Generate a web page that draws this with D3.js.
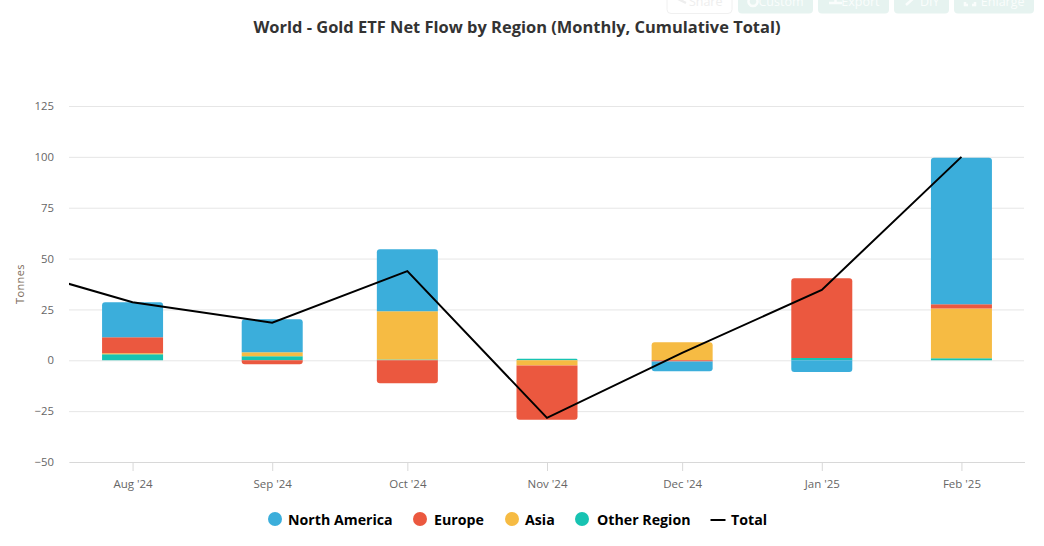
<!DOCTYPE html>
<html>
<head>
<meta charset="utf-8">
<script src="https://cdn.jsdelivr.net/npm/d3@7"></script>
<style>
  html, body { margin: 0; padding: 0; background: #fff; }
  svg { display: block; font-family: "Open Sans", sans-serif; }
</style>
</head>
<body>
<div id="chart"></div>
<script>
const months = ["2024-08-01", "2024-09-01", "2024-10-01", "2024-11-01", "2024-12-01", "2025-01-01", "2025-02-01"];
const north_america = [17.2, 16.2, 30.5, 0, -4.8, -5.7, 72];
const europe = [7.8, -2, -11.3, -26.6, -0.6, 39.2, 2];
const asia = [0.5, 2, 23.7, -2.6, 8.9, 0, 24.5];
const other_region = [3, 2, 0.4, 0.7, 0, 1.1, 1];
// total also has the month before the axis starts, the line runs in from the left edge
const total_months = ["2024-07-01"].concat(months);
const total = [48.4, 28.5, 18.5, 43.8, -28.3, 3.6, 34.6, 100];
const y_ticks = [-50, -25, 0, 25, 50, 75, 100, 125];
const buttons = ["Share", "Custom", "Export", "DIY", "Enlarge"];

const width = 1044;
const height = 546;
const margin = { top: 106, right: 20, bottom: 84, left: 69 };

const colors = { "North America": "#3baedb", "Europe": "#eb583f", "Asia": "#f6bb43", "Other Region": "#17c3b2" };

const parseDate = d3.utcParse("%Y-%m-%d");
const formatDate = d3.utcFormat("%b '%y");

const svg = d3.select("#chart").append("svg").attr("width", width).attr("height", height);

// toolbar, cut off by the top of the window
const button_x = [[667, 732], [738, 813], [818, 889], [894, 949], [954, 1034]];
const button_icons = [
  "M678,-1L686,-4M678,-1L686,3",
  "M753,-3a4.5,4.5 0 1,0 0.01,0",
  "M829,3h13M835.5,-4v6",
  "M906,5L915,-3",
  "M965,2v3h3M975,2v3h-3",
];
const toolbar = svg.append("g").selectAll("g").data(buttons).join("g");
toolbar.append("rect")
  .attr("x", (d, i) => button_x[i][0])
  .attr("y", -20)
  .attr("width", (d, i) => button_x[i][1] - button_x[i][0])
  .attr("height", 33.5)
  .attr("rx", 4)
  .attr("fill", (d, i) => (i === 0 ? "#fff" : "#e6f3f0"))
  .attr("stroke", (d, i) => (i === 0 ? "#f0f0f0" : "none"));
toolbar.append("path")
  .attr("d", (d, i) => button_icons[i])
  .attr("fill", "none")
  .attr("stroke", (d, i) => (i === 0 ? "#eeeeee" : "#fafdfc"))
  .attr("stroke-width", 2.5);
toolbar.append("text")
  .text((d) => d)
  .attr("x", (d, i) => button_x[i][1] - 9.5)
  .attr("y", 6)
  .attr("text-anchor", "end")
  .attr("font-size", 12.5)
  .attr("fill", (d, i) => (i === 0 ? "#eeeeee" : "#fafdfc"));

svg.append("text")
  .text("World - Gold ETF Net Flow by Region (Monthly, Cumulative Total)")
  .attr("x", 517)
  .attr("y", 33)
  .attr("text-anchor", "middle")
  .attr("font-size", 16.45)
  .attr("font-weight", 700)
  .attr("fill", "#333333");

const x = d3.scaleUtc()
  .domain([parseDate("2024-07-18"), parseDate("2025-02-15")])
  .range([margin.left + 0.5, width - margin.right + 0.5]);

const y = d3.scaleLinear()
  .domain([-50, 125])
  .range([height - margin.bottom, margin.top]);

// Eixo y
const yAxis = svg.append("g")
  .attr("transform", `translate(${margin.left},0)`)
  .call(d3.axisLeft(y).tickValues(y_ticks).tickSize(0).tickPadding(15));
yAxis.select(".domain").remove();
yAxis.selectAll("text").attr("font-size", 11.3).attr("font-family", "Open Sans").attr("fill", "#666666");
yAxis.selectAll("line")
  .attr("x2", width - margin.right - margin.left)
  .attr("stroke", "#e6e6e6");

svg.append("text")
  .text("Tonnes")
  .attr("transform", "translate(24,284) rotate(-90)")
  .attr("text-anchor", "middle")
  .attr("font-size", 11)
  .attr("letter-spacing", 0.4)
  .attr("fill", "#7a6a58");

// Eixo x
const xAxis = svg.append("g")
  .attr("transform", `translate(0,${height - margin.bottom})`)
  .call(d3.axisBottom(x).tickValues(months.map(parseDate)).tickFormat(formatDate).tickSize(9).tickSizeOuter(0).tickPadding(9));
xAxis.select(".domain").attr("stroke", "#d8d8d8");
xAxis.selectAll("line").attr("stroke", "#d8d8d8");
xAxis.selectAll("text").attr("font-size", 11.5).attr("font-family", "Open Sans").attr("fill", "#666666");

// stacked bars, positive values go up from zero and negative ones go down
const bar_width = 61;
const corner = 3;
const series = [
  { name: "North America", values: north_america },
  { name: "Europe", values: europe },
  { name: "Asia", values: asia },
  { name: "Other Region", values: other_region },
];
const segments = [];
months.forEach((month, i) => {
  let up = 0;
  let down = 0;
  const stack = series.slice().reverse().map((s) => {
    const v = s.values[i];
    const seg = { name: s.name, date: parseDate(month), y0: v >= 0 ? up : down, y1: (v >= 0 ? up : down) + v };
    if (v >= 0) up += v; else down += v;
    return seg;
  });
  stack.forEach((seg) => {
    seg.round = seg.y1 !== seg.y0 && (seg.y1 === up || seg.y1 === down) && seg.y1 !== 0;
    segments.push(seg);
  });
});

function barPath(d) {
  const left = x(d.date) - bar_width / 2;
  const right = left + bar_width;
  const base = y(d.y0);
  const end = y(d.y1);
  const r = d.round ? Math.min(corner, Math.abs(end - base)) : 0;
  const dir = end < base ? 1 : -1;
  return `M${left},${base}L${left},${end + dir * r}Q${left},${end} ${left + r},${end}` +
    `L${right - r},${end}Q${right},${end} ${right},${end + dir * r}L${right},${base}Z`;
}

svg.append("g")
  .selectAll("path")
  .data(segments.filter((d) => d.y0 !== d.y1))
  .join("path")
  .attr("d", barPath)
  .attr("fill", (d) => colors[d.name]);

svg.append("clipPath")
  .attr("id", "plot-clip")
  .append("rect")
  .attr("x", margin.left)
  .attr("y", margin.top - 20)
  .attr("width", width - margin.left - margin.right)
  .attr("height", height - margin.top - margin.bottom + 20);

const line = d3.line()
  .x((d) => x(parseDate(d[0])))
  .y((d) => y(d[1]));

svg.append("path")
  .datum(total_months.map((m, i) => [m, total[i]]))
  .attr("d", line)
  .attr("fill", "none")
  .attr("stroke", "#000")
  .attr("stroke-width", 2)
  .attr("clip-path", "url(#plot-clip)");

// Legendas
const legend_items = [
  { name: "North America", mark: 275, label: 288 },
  { name: "Europe", mark: 420, label: 434 },
  { name: "Asia", mark: 512, label: 525 },
  { name: "Other Region", mark: 582, label: 597 },
  { name: "Total", mark: 718, label: 731 },
];
const legend = svg.append("g").selectAll("g").data(legend_items).join("g");
legend.filter((d) => d.name !== "Total").append("circle")
  .attr("cx", (d) => d.mark)
  .attr("cy", 519)
  .attr("r", 7)
  .attr("fill", (d) => colors[d.name]);
legend.filter((d) => d.name === "Total").append("line")
  .attr("x1", (d) => d.mark - 7.5)
  .attr("x2", (d) => d.mark + 7.5)
  .attr("y1", 520)
  .attr("y2", 520)
  .attr("stroke", "#000")
  .attr("stroke-width", 2);
legend.append("text")
  .text((d) => d.name)
  .attr("x", (d) => d.label)
  .attr("y", 525)
  .attr("font-size", 14.2)
  .attr("font-weight", 700)
  .attr("fill", "#000");
</script>
</body>
</html>
